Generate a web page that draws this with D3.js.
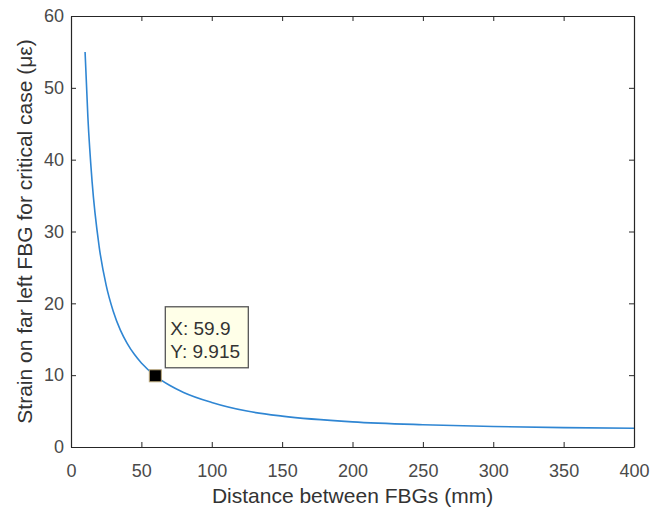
<!DOCTYPE html>
<html><head><meta charset="utf-8">
<script src="https://cdn.jsdelivr.net/npm/d3@7/dist/d3.min.js"></script>
<style>body{margin:0;background:#fff;} text{font-family:"Liberation Sans",Arial,sans-serif;}</style>
</head><body>
<svg id="c" width="662" height="509"></svg>
<script>
const distance = [10, 12, 15, 20, 25, 30, 35, 40, 45, 50, 59.9, 70, 80, 100, 125, 150, 200, 250, 300, 350, 400];
const strain   = [55.0, 45.9, 36.9, 27.9, 22.5, 18.9, 16.3, 14.4, 12.9, 11.7, 9.915, 8.6, 7.6, 6.2, 5.0, 4.3, 3.5, 3.1, 2.85, 2.7, 2.6];
const xTicks = [0, 50, 100, 150, 200, 250, 300, 350, 400];
const yTicks = [0, 10, 20, 30, 40, 50, 60];
const tipPoint = {x: 59.9, y: 9.915};
const xLabel = "Distance between FBGs (mm)";
const yLabel = "Strain on far left FBG for critical case (με)";

const svg = d3.select("#c");
const L = 71, R = 634, T = 16, B = 447;
const x = d3.scaleLinear().domain([0, 400]).range([L, R]);
const y = d3.scaleLinear().domain([0, 60]).range([B, T]);
const axCol = "#262626", txtCol = "#4a4a4a";

// curve
const line = d3.line().x((d,i)=>x(distance[i])).y((d,i)=>y(strain[i])).curve(d3.curveMonotoneX);
svg.append("path").datum(strain).attr("d", line).attr("fill","none")
  .attr("stroke","#2f86d3").attr("stroke-width",1.6);

// axes
const gx = svg.append("g").attr("transform",`translate(0,${B})`)
  .call(d3.axisBottom(x).tickValues(xTicks).tickSizeInner(-5).tickSizeOuter(0).tickPadding(17));
const gxt = svg.append("g").attr("transform",`translate(0,${T})`)
  .call(d3.axisTop(x).tickValues(xTicks).tickSizeInner(-5).tickSizeOuter(0).tickFormat(""));
const gy = svg.append("g").attr("transform",`translate(${L},0)`)
  .call(d3.axisLeft(y).tickValues(yTicks).tickSizeInner(-5).tickSizeOuter(0).tickPadding(7));
const gyr = svg.append("g").attr("transform",`translate(${R},0)`)
  .call(d3.axisRight(y).tickValues(yTicks).tickSizeInner(-5).tickSizeOuter(0).tickFormat(""));
[gx,gxt,gy,gyr].forEach(g=>{
  g.select(".domain").attr("stroke",axCol).attr("stroke-width",1.2);
  g.selectAll(".tick line").attr("stroke",axCol);
  g.selectAll(".tick text").attr("fill",txtCol).style("font-size","18px").style("font-family","'Liberation Sans',Arial,sans-serif");
});

// axis labels
svg.append("text").attr("x",(L+R)/2).attr("y",503).attr("text-anchor","middle")
  .attr("fill","#333").style("font-size","21px").text(xLabel);
svg.append("text").attr("transform",`translate(32,${(T+B)/2}) rotate(-90)`).attr("text-anchor","middle")
  .attr("fill","#333").style("font-size","21px").text(yLabel);

// data tip
const px = x(tipPoint.x), py = y(tipPoint.y);
svg.append("rect").attr("x",px-6).attr("y",py-6).attr("width",12).attr("height",12)
  .attr("fill","#000").attr("stroke","#b9a77a").attr("stroke-width",1);
const bx = px+10, by = py-69;
svg.append("rect").attr("x",bx).attr("y",by).attr("width",83).attr("height",61)
  .attr("fill","#ffffe8").attr("stroke","#555").attr("stroke-width",1.3);
svg.append("text").attr("x",bx+5).attr("y",by+28).attr("fill","#333").style("font-size","19px")
  .text("X: " + tipPoint.x);
svg.append("text").attr("x",bx+5).attr("y",by+51).attr("fill","#333").style("font-size","19px")
  .text("Y: " + tipPoint.y);
</script>
</body></html>
